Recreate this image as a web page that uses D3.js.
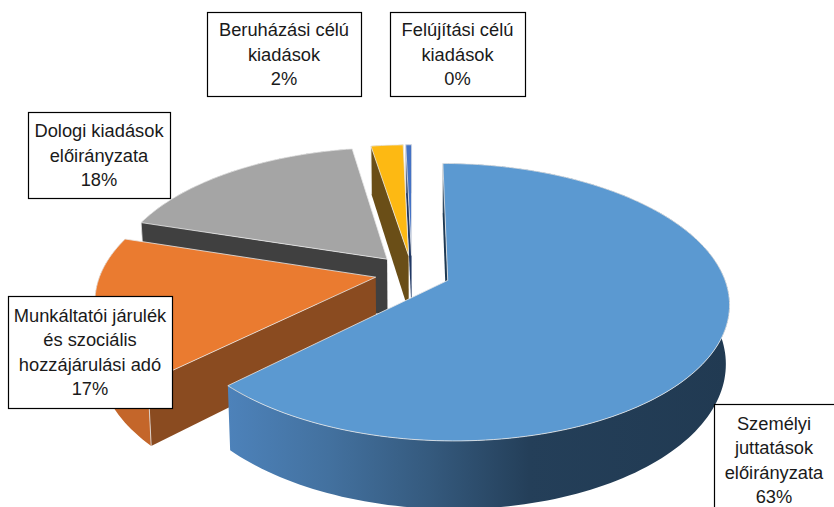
<!DOCTYPE html>
<html><head><meta charset="utf-8">
<script src="https://cdn.jsdelivr.net/npm/d3@7"></script>
<style>html,body{margin:0;padding:0;background:#fff}svg{display:block}</style>
</head><body><svg id="c" width="834" height="507"></svg>
<script>
const categories = ["Személyi juttatások előirányzata","Munkáltatói járulék és szociális hozzájárulási adó","Dologi kiadások előirányzata","Beruházási célú kiadások","Felújítási célú kiadások"];
const values = [62.8, 17, 17.6, 2.2, 0.4];
const labelLines = [
  ["Személyi","juttatások","előirányzata","63%"],
  ["Munkáltatói járulék","és szociális","hozzájárulási adó","17%"],
  ["Dologi kiadások","előirányzata","18%"],
  ["Beruházási célú","kiadások","2%"],
  ["Felújítási célú","kiadások","0%"]
];
const topColors = ["#5b99d1","#ea7b30","#a5a5a5","#fdb913","#4472c4"];
const wallColors = ["url(#wallBlue)","#c4662a","#7d7d7d","#c49a10","#2f5597"];
const cutColors = ["#1f3a54","#8a4b20","#404040","#6a4e17","#203864"];
const explode = [0.14,0.135,0.14,0.135,0.135];
const boxes = [[714,404,130,112],[8,296,164,112],[28,112,142,86],[207,12,154,84],[390,12,135,84]];

const W=834,H=507, Ox=412, Oy=273, R=275, Rb=133, persp=0.156, depth=57, vx=420, shrink=0.012;
const svg=d3.select("#c");
const defs=svg.append("defs");
const g=defs.append("linearGradient").attr("id","wallBlue").attr("gradientUnits","userSpaceOnUse")
  .attr("x1",228).attr("x2",730).attr("y1",0).attr("y2",0);
[[0,"#4d82ba"],[0.2,"#43719f"],[0.4,"#355a7e"],[0.6,"#243f59"],[1,"#213a52"]].forEach(s=>g.append("stop").attr("offset",s[0]).attr("stop-color",s[1]));

const pie=d3.pie().sort(null).value(d=>d);
const arcs=pie(values);
function proj(U,V,drop){
  const w=1-persp*V;
  let x=Ox+R*U/w, y=Oy+Rb*V/w;
  if(drop){ x=vx+(x-vx)*(1-shrink); y+=depth/w; }
  return [x,y];
}
function pt(a,i,r,drop){
  const mid=(arcs[i].startAngle+arcs[i].endAngle)/2, e=explode[i];
  return proj(r*Math.sin(a)+e*Math.sin(mid), -r*Math.cos(a)-e*Math.cos(mid), drop);
}
const line=d3.line();
const steps=a=>d3.range(0,1.0001,1/Math.max(4,Math.ceil((a.endAngle-a.startAngle)*40))).map(t=>a.startAngle+t*(a.endAngle-a.startAngle));

// back to front
[4,3,2,1,0].forEach(i=>{
  const a=arcs[i], s=steps(a), G=svg.append("g");
  // outer wall
  const wall=[...s.map(t=>pt(t,i,1,false)),...s.slice().reverse().map(t=>pt(t,i,1,true))];
  G.append("path").attr("d",line(wall)+"Z").attr("fill",wallColors[i]);
  // start cut face
  const cut=[pt(0,i,0,false),pt(a.startAngle,i,1,false),pt(a.startAngle,i,1,true),pt(0,i,0,true)];
  G.append("path").attr("d",line(cut)+"Z").attr("fill",cutColors[i]);
  // rim seam
  G.append("path").attr("d",line([pt(a.startAngle,i,1,false),pt(a.startAngle,i,1,true)]))
    .attr("stroke","#e6e6e6").attr("stroke-width",0.8).attr("fill","none");
  // top
  const top=[pt(0,i,0,false),...s.map(t=>pt(t,i,1,false))];
  G.append("path").attr("d",line(top)+"Z").attr("fill",topColors[i])
    .attr("stroke","#e9e9e9").attr("stroke-width",0.8).attr("stroke-linejoin","round");
});

// labels
const lh=24.2;
labelLines.forEach((lines,i)=>{
  const [x,y,w,h]=boxes[i];
  svg.append("rect").attr("x",x+.5).attr("y",y+.5).attr("width",w).attr("height",h)
    .attr("fill","#fff").attr("stroke","#000").attr("stroke-width",1.2);
  const cx=i===0?774:x+w/2;
  const t0=y+h/2-(lines.length-1)*lh/2+6.5;
  lines.forEach((l,j)=>svg.append("text").attr("x",cx).attr("y",t0+j*lh)
    .attr("text-anchor","middle").attr("font-family","'Liberation Sans',Arial,sans-serif")
    .attr("font-size",18.3).attr("fill","#1a1a1a").text(l));
});
</script></body></html>
